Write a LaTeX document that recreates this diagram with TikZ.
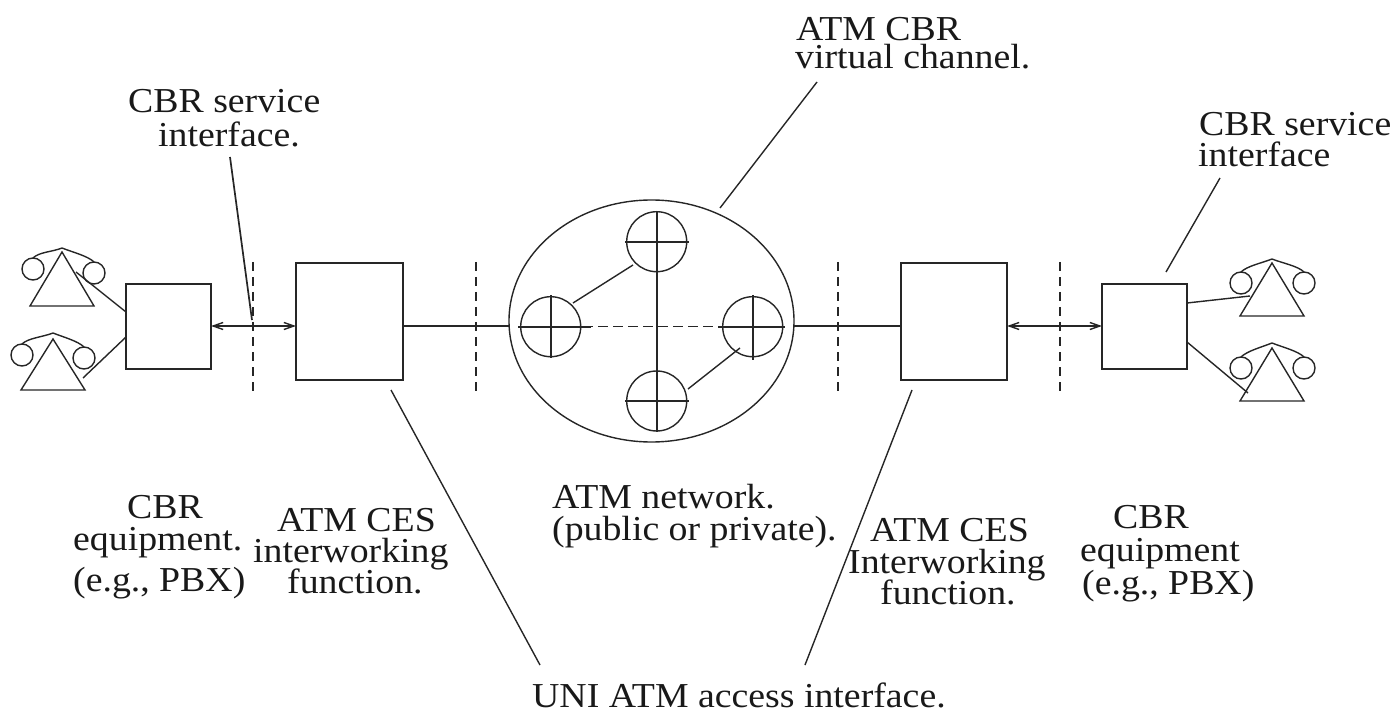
\documentclass[tikz,border=0pt]{standalone}
\usepackage{fontspec}
\setmainfont[FakeStretch=1.08]{Liberation Serif}
\usetikzlibrary{arrows.meta,shapes.geometric}
\tikzset{
  ln/.style={line width=1.7pt,draw=black!85},
  thin ln/.style={line width=1.4pt,draw=black!85},
  dashln/.style={line width=1.6pt,draw=black!85,dash pattern=on 9pt off 6pt},
  boxs/.style={ln,rectangle,inner sep=0,outer sep=0},
  circn/.style={thin ln,circle,inner sep=0,minimum size=60pt,outer sep=0},
  phonec/.style={thin ln,circle,inner sep=0,minimum size=22pt,outer sep=0},
  lab/.style={anchor=base west,inner sep=0,font=\fontsize{35}{35}\selectfont,text=black!90},
  dbl/.style={line width=1.4pt,draw=black!85,{Straight Barb[length=10pt,width=7pt]}-{Straight Barb[length=10pt,width=7pt]}}
}
\newcommand{\phonesym}[8]{% name, apex x, apex y, base y, halfwidth, lc, rc, top y
  \coordinate (#1a) at (#2,#3);
  \coordinate (#1l) at (#2-#5,#4);
  \coordinate (#1r) at (#2+#5,#4);
  \draw[thin ln] (#1a) -- (#1l) -- (#1r) -- cycle;
  \node[phonec] (#1c) at (#6) {};
  \node[phonec] (#1d) at (#7) {};
  \coordinate (#1t) at (#2,#8);
  \draw[thin ln] (#1c.north) .. controls +(6,-6) and +(-10,4) .. (#1t) .. controls +(10,4) and +(-6,-6) .. (#1d.north);
}
\begin{document}
\begin{tikzpicture}[x=1pt,y=-1pt]
\useasboundingbox (0,0) rectangle (1395,711);
% boxes
\node[boxs,minimum width=85pt,minimum height=85pt] (b1) at (168.5,326.5) {};
\node[boxs,minimum width=107pt,minimum height=117pt] (b2) at (349.5,321.5) {};
\node[boxs,minimum width=106pt,minimum height=117pt] (b3) at (954,321.5) {};
\node[boxs,minimum width=85pt,minimum height=85pt] (b4) at (1144.5,326.5) {};
% phones
\phonesym{p}{62}{252}{306}{32}{33,269}{94,273}{248}
\phonesym{q}{53}{339}{390}{32}{22,355}{84,358}{333}
\phonesym{r}{1272}{263}{316}{32}{1241,283}{1304,283}{259}
\phonesym{s}{1272}{348}{401}{32}{1241,368}{1304,368}{343}
% phone links
\coordinate (pk) at (76,272);
\coordinate (qk) at (83,378);
\coordinate (rk) at (1250,296);
\coordinate (sk) at (1248,393);
\draw[thin ln] (b1.west |- 0,312) -- (pk);
\draw[thin ln] (b1.west |- 0,337) -- (qk);
\draw[thin ln] (b4.east |- 0,303) -- (rk);
\draw[thin ln] (b4.east |- 0,342) -- (sk);
% network
\node[thin ln,ellipse,minimum width=285pt,minimum height=242pt,inner sep=0,outer sep=0] (net) at (651.5,321) {};
\node[circn] (ct) at (656.7,241.7) {};
\node[circn] (cl) at (550.7,326.7) {};
\node[circn] (cr) at (752.7,326.7) {};
\node[circn] (cb) at (656.7,401) {};
% crosses
\coordinate (tt) at (656.7,211.7);
\coordinate (bb) at (656.7,431.7);
\draw[ln] (tt) -- (bb);
\coordinate (lw) at (518,326.7);
\coordinate (le) at (591,326.7);
\coordinate (rw) at (718,326.7);
\coordinate (re) at (785,326.7);
\draw[ln] (lw) -- (le);
\draw[ln] (rw) -- (re);
\draw[dashln,dash pattern=on 10pt off 5pt,dash phase=-7pt] (le) -- (rw);
\coordinate (tw) at (625,241.7);\coordinate (te) at (689,241.7);
\draw[ln] (tw) -- (te);
\coordinate (bw) at (625,401);\coordinate (be) at (689,401);
\draw[ln] (bw) -- (be);
\coordinate (lt) at (550.7,295);\coordinate (lb) at (550.7,358);
\draw[ln] (lt) -- (lb);
\coordinate (rt) at (752.7,295);\coordinate (rb) at (752.7,360);
\draw[ln] (rt) -- (rb);
\coordinate (l1) at (573,303);\coordinate (l1e) at (633,265);
\draw[thin ln] (l1) -- (l1e);
\coordinate (l2) at (688,389);\coordinate (l2e) at (740,348);
\draw[thin ln] (l2) -- (l2e);
% trunk
\draw[ln] (b2.east |- 0,326) -- (net.west |- 0,326);
\draw[ln] (net.east |- 0,326) -- (b3.west |- 0,326);
\draw[dbl] (b1.east |- 0,326) -- (b2.west |- 0,326);
\draw[dbl] (b3.east |- 0,326) -- (b4.west |- 0,326);
% dashed dividers
\foreach \n/\x in {a/253,b/476,c/838,d/1060}{
  \coordinate (\n t) at (\x,262);
  \coordinate (\n b) at (\x,392);
  \draw[dashln] (\n t) -- (\n b);
}
% labels
\node[lab] (t1) at (796,41) {ATM CBR};
\node[lab] (t2) at (795,69) {virtual channel.};
\node[lab] (t3) at (128,113) {CBR service};
\node[lab] (t4) at (158,147) {interface.};
\node[lab] (t5) at (1199,136) {CBR service};
\node[lab] (t6) at (1198,167) {interface};
\node[lab] (t7) at (127,518) {CBR};
\node[lab] (t8) at (73,550) {equipment.};
\node[lab] (t9) at (73,591) {(e.g., PBX)};
\node[lab] (t10) at (277,531) {ATM CES};
\node[lab] (t11) at (253,562) {interworking};
\node[lab] (t12) at (287,593) {function.};
\node[lab] (t13) at (552,508) {ATM network.};
\node[lab] (t14) at (552,540) {(public or private).};
\node[lab] (t15) at (870,541) {ATM CES};
\node[lab] (t16) at (848,573) {Interworking};
\node[lab] (t17) at (880,604) {function.};
\node[lab] (t18) at (1113,528) {CBR};
\node[lab] (t19) at (1080,561) {equipment};
\node[lab] (t20) at (1082,594) {(e.g., PBX)};
\node[lab] (t21) at (532,707) {UNI ATM access interface.};
% leaders
\coordinate (u1) at (391,390);\coordinate (u2) at (912,390);
\coordinate (un) at (540,665);\coordinate (um) at (805,665);
\draw[thin ln] (u1) -- (un);
\draw[thin ln] (u2) -- (um);
\coordinate (k1) at (230,157);\coordinate (k2) at (252,320);
\draw[ln] (k1) -- (k2);
\coordinate (k3) at (1166,272);\coordinate (k4) at (1220,178);
\draw[thin ln] (k3) -- (k4);
\coordinate (k5) at (720,208);\coordinate (k6) at (817,82);
\draw[thin ln] (k5) -- (k6);
\end{tikzpicture}
\end{document}
